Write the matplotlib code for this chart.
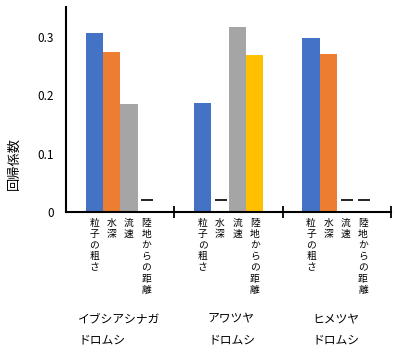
import numpy as np
import matplotlib.pyplot as plt

plt.rcParams['font.family'] = ['Noto Sans CJK JP', 'DejaVu Sans']

species = ['イブシアシナガ\nドロムシ', 'アワツヤ\nドロムシ', 'ヒメツヤ\nドロムシ']
factors = ['粒子の粗さ', '水深', '流速', '陸地からの距離']
colors = ['#4472C4', '#ED7D31', '#A5A5A5', '#FFC000']

# 回帰係数 (nan = 有意でない, shown as a dash)
coef = {
    '粒子の粗さ': [0.307, 0.186, 0.297],
    '水深': [0.273, np.nan, 0.270],
    '流速': [0.185, 0.316, np.nan],
    '陸地からの距離': [np.nan, 0.269, np.nan],
}
dash_level = 0.02

fig = plt.figure(figsize=(4.0, 3.53), dpi=100)
ax = fig.add_axes([0.165, 0.399, 0.813, 0.58])

width = 0.16
xs_all, labels_all = [], []
for j, f in enumerate(factors):
    xs = np.arange(len(species)) + 0.5 + (j - 1.5) * width
    vals = np.array(coef[f])
    ok = ~np.isnan(vals)
    ax.bar(xs[ok], vals[ok], width=width, color=colors[j])
    ax.plot(xs[~ok] + 0.01, np.full((~ok).sum(), dash_level), linestyle='none',
            marker='_', markersize=8, markeredgewidth=1.2, color='black')
    xs_all += list(xs)
    labels_all += ['\n'.join(f)] * len(xs)

ax.set_xlim(0, 3)
ax.set_ylim(0, 0.35)
ax.set_yticks([0, 0.1, 0.2, 0.3])
ax.set_yticklabels(['0', '0.1', '0.2', '0.3'], fontsize=8.5)
ax.tick_params(axis='y', length=0, pad=9)

ax.set_xticks(xs_all)
ax.set_xticklabels(labels_all, fontsize=7, linespacing=1.15, va='top')
ax.tick_params(axis='x', which='major', length=0, pad=4)
ax.set_xticks([1, 2, 3], minor=True)
ax.tick_params(axis='x', which='minor', length=8, width=1.3, direction='inout')

for s in ['top', 'right']:
    ax.spines[s].set_visible(False)
for s in ['left', 'bottom']:
    ax.spines[s].set_linewidth(1.5)

ax.set_ylabel('回帰係数', fontsize=9.5)
ax.yaxis.set_label_coords(-0.14, 0.24)

group_x = [78, 208, 312]
for gx, name in zip(group_x, species):
    fig.text(gx / 400, 1 - 312 / 353, name, fontsize=8.5, va='top', ha='left',
             linespacing=1.9)

fig.savefig('out.png', dpi=100)
